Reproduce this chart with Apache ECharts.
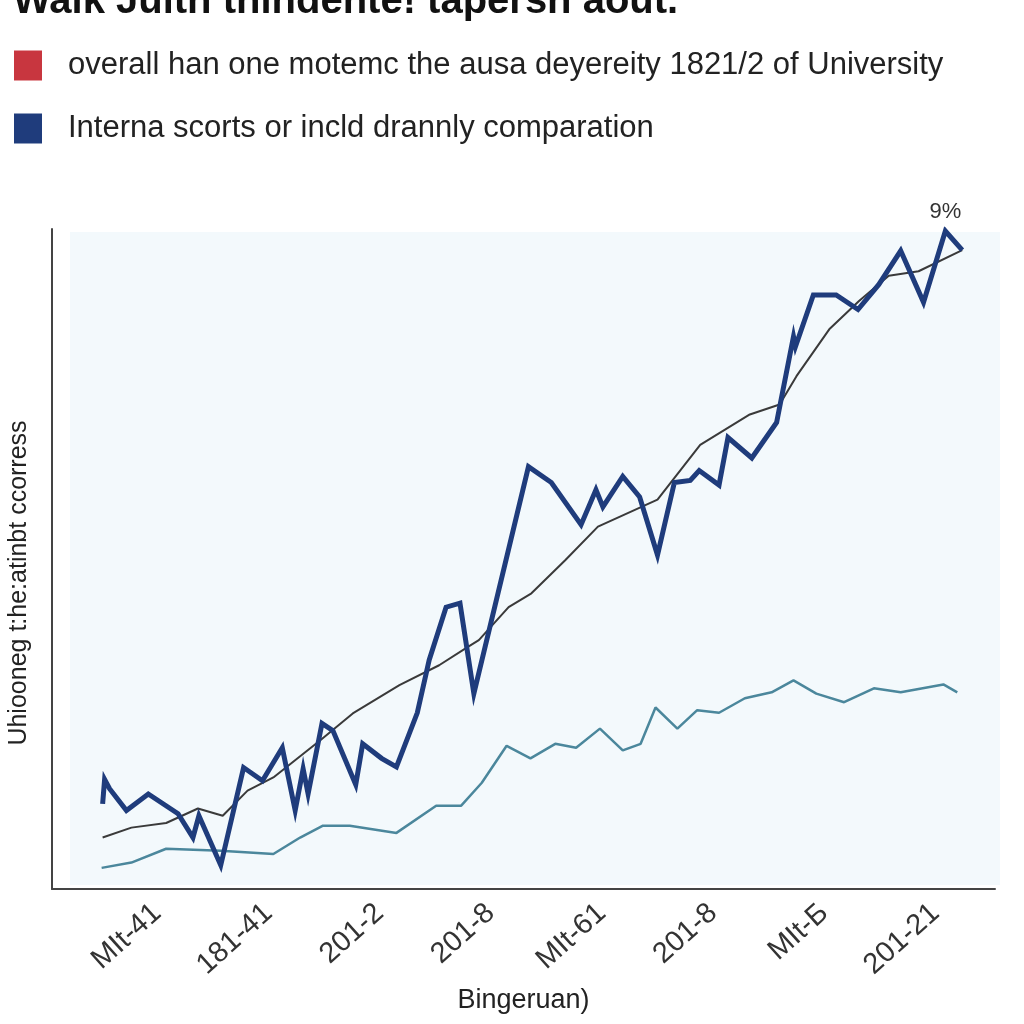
<!DOCTYPE html>
<html>
<head>
<meta charset="utf-8">
<script src="https://cdn.jsdelivr.net/npm/echarts@6/dist/echarts.min.js"></script>
<style>html,body{margin:0;padding:0;background:#fff}#c{width:1024px;height:1024px}</style>
</head>
<body>
<div id="c"></div>
<script>
const titleText = 'Walk Jultn thindente! tapersh aout.';
const legendNames = ['overall han one motemc the ausa deyereity 1821/2 of University', 'Interna scorts or incld drannly comparation'];
const yAxisName = 'Uhiooneg t:he:atinbt ccorress';
const xAxisName = 'Bingeruan)';
const peakLabel = '9%';

const xTicks = [10.6, 21.8, 33.0, 44.2, 55.4, 66.6, 77.8, 89.0];
const xTickLabels = ['MIt-41', '181-41', '201-2', '201-8', 'MIt-61', '201-8', 'MIt-Б', '201-21'];

const blueX = [5.1,5.3,5.8,7.5,9.7,12.7,14.2,14.8,17.0,19.3,21.2,23.2,24.5,25.3,25.8,27.2,28.3,30.6,31.3,33.2,34.7,36.8,38.0,39.7,41.1,42.5,48.0,50.3,53.3,54.8,55.5,57.5,59.2,61.0,62.7,64.3,65.2,67.2,68.1,70.5,73.0,74.7,74.9,76.7,79.0,81.2,83.3,85.5,87.8,90.0,91.7];
const blueY = [12.9,16.6,15.2,11.9,14.4,11.4,7.8,11.1,3.6,18.4,16.4,21.4,11.9,18.2,14.4,25.1,24.0,15.8,22.0,19.8,18.5,26.7,34.7,42.7,43.3,29.6,64.0,61.6,55.2,60.5,57.9,62.5,59.4,50.6,61.6,61.9,63.4,61.2,68.4,65.3,70.7,83.7,82.2,90.0,90.0,87.8,91.6,96.7,88.9,99.7,96.8];

const grayX = [5.1,8.0,11.5,14.7,17.2,19.7,22.3,27.0,30.3,35.0,39.0,41.7,43.0,46.0,48.3,51.7,55.0,61.0,65.3,70.3,73.3,75.0,78.3,81.3,84.3,87.3,91.7];
const grayY = [7.8,9.3,10.0,12.2,11.1,14.9,16.9,22.5,26.6,30.9,33.9,36.5,37.7,42.7,44.8,49.8,54.9,59.0,67.3,71.9,73.4,77.7,84.8,89.1,92.9,93.6,96.8];

const tealX = [5.0,8.0,11.5,17.0,22.3,25.0,27.3,30.0,34.7,38.7,41.2,43.3,45.8,48.2,50.7,52.8,55.2,57.5,59.3,60.8,63.0,65.0,67.2,69.8,72.5,74.7,77.0,79.8,82.8,85.5,89.8,91.2];
const tealY = [3.2,4.0,6.1,5.8,5.3,7.8,9.6,9.6,8.5,12.6,12.6,16.1,21.7,19.8,22.0,21.4,24.3,21.0,22.0,27.5,24.3,27.1,26.7,28.9,29.8,31.6,29.6,28.3,30.4,29.8,31.0,29.8];

const zip = (xs, ys) => xs.map((x, i) => [x, ys[i]]);
const peakIdx = blueY.indexOf(Math.max(...blueY));
const FONT = 'Liberation Sans';
const blueData = zip(blueX, blueY).map((p, i) => i === peakIdx ? {
  value: p,
  label: { show: true, position: 'top', distance: 8, formatter: peakLabel, fontSize: 22, color: '#333', fontFamily: FONT }
} : p);

const chart = echarts.init(document.getElementById('c'), null, { renderer: 'canvas' });
chart.setOption({
  animation: false,
  backgroundColor: '#ffffff',
  title: {
    text: titleText, left: 8, top: -23,
    textStyle: { fontSize: 40, fontWeight: 'bold', color: '#111', fontFamily: FONT }
  },
  graphic: [{
    type: 'rect', z: -10, silent: true,
    shape: { x: 70, y: 232, width: 930, height: 653 },
    style: { fill: '#f3f9fc' }
  }],
  legend: {
    data: legendNames.map(n => ({ name: n, icon: 'rect' })),
    orient: 'vertical', left: 14, top: 50, padding: 0,
    itemWidth: 28, itemHeight: 30, itemGap: 32,
    textStyle: { fontSize: 31, color: '#222', fontFamily: FONT, padding: [0, 0, 0, 21] }
  },
  grid: { left: 52, right: 29, top: 229, bottom: 135, outerBoundsMode: 'none', containLabel: false },
  xAxis: {
    type: 'value', min: 0, max: 95,
    name: xAxisName, nameLocation: 'middle', nameGap: 98,
    nameTextStyle: { fontSize: 27, color: '#222', fontFamily: FONT },
    axisLine: { show: true, lineStyle: { color: '#444', width: 2 } },
    axisTick: { show: false },
    splitLine: { show: false },
    axisLabel: {
      customValues: xTicks, rotate: 42, margin: 20, fontSize: 29, color: '#333', fontFamily: FONT,
      formatter: v => {
        let best = 0;
        xTicks.forEach((t, i) => { if (Math.abs(t - v) < Math.abs(xTicks[best] - v)) best = i; });
        return xTickLabels[best];
      }
    }
  },
  yAxis: {
    type: 'value', min: 0, max: 100,
    name: yAxisName, nameLocation: 'middle', nameGap: 20, nameRotate: 90,
    nameTextStyle: { fontSize: 25, color: '#222', fontFamily: FONT, padding: [0, 48, 0, 0] },
    axisLine: { show: true, lineStyle: { color: '#444', width: 2 } },
    axisTick: { show: false }, axisLabel: { show: false }, splitLine: { show: false }
  },
  series: [
    { name: legendNames[0], type: 'line', data: [], itemStyle: { color: '#c8363f' } },
    { name: 'trend', type: 'line', data: zip(grayX, grayY), showSymbol: false, symbol: 'none',
      lineStyle: { color: '#3a3a3a', width: 2 }, itemStyle: { color: '#3a3a3a' }, z: 3 },
    { name: 'baseline', type: 'line', data: zip(tealX, tealY), showSymbol: false, symbol: 'none',
      lineStyle: { color: '#4b879c', width: 2.5 }, itemStyle: { color: '#4b879c' }, z: 2 },
    { name: legendNames[1], type: 'line', data: blueData, symbol: 'circle', symbolSize: 0.01, showSymbol: true,
      lineStyle: { color: '#1f3c7c', width: 5, join: 'miter' }, itemStyle: { color: '#1f3c7c' }, z: 4 }
  ]
});
</script>
</body>
</html>
